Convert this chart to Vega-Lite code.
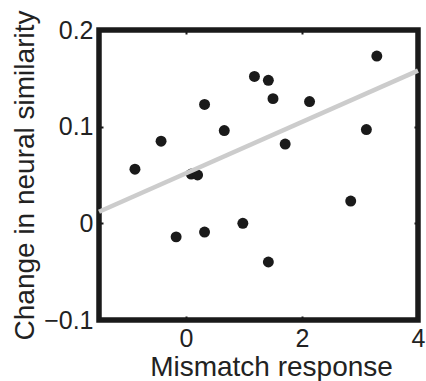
{
  "$schema": "https://vega.github.io/schema/vega-lite/v6.json",
  "width": 319,
  "height": 290,
  "autosize": "none",
  "padding": {"left": 99, "top": 30, "right": 8, "bottom": 61},
  "background": "white",
  "config": {
    "view": {"stroke": "#1a1a1a", "strokeWidth": 5.5},
    "font": "Liberation Sans",
    "axis": {"grid": false, "domain": false, "labelFont": "Liberation Sans", "titleFont": "Liberation Sans", "labelColor": "#222", "titleColor": "#222", "tickColor": "#1a1a1a", "tickWidth": 2, "titleFontWeight": "normal"}
  },
  "datasets": {
    "pts": [
      {"mismatch": 0.32, "change": 0.123},
      {"mismatch": 1.18, "change": 0.152},
      {"mismatch": 0.66, "change": 0.096},
      {"mismatch": -0.43, "change": 0.085},
      {"mismatch": -0.88, "change": 0.056},
      {"mismatch": 0.09, "change": 0.051},
      {"mismatch": 0.2, "change": 0.05},
      {"mismatch": 1.42, "change": 0.148},
      {"mismatch": 1.5, "change": 0.129},
      {"mismatch": 2.13, "change": 0.126},
      {"mismatch": 3.29, "change": 0.173},
      {"mismatch": 3.11, "change": 0.097},
      {"mismatch": 1.71, "change": 0.082},
      {"mismatch": -0.17, "change": -0.014},
      {"mismatch": 0.32, "change": -0.009},
      {"mismatch": 0.98, "change": 0.0},
      {"mismatch": 2.84, "change": 0.023},
      {"mismatch": 1.42, "change": -0.04}
    ],
    "fit": [
      {"mismatch": -1.5, "change": 0.012},
      {"mismatch": 4, "change": 0.158}
    ]
  },
  "layer": [
    {
      "data": {"name": "pts"},
      "mark": {"type": "point", "filled": true, "shape": "circle", "size": 120, "color": "#1a1a1a", "opacity": 1},
      "encoding": {
        "x": {"field": "mismatch", "type": "quantitative", "scale": {"domain": [-1.5, 4], "nice": false, "zero": false},
          "axis": {"orient": "bottom", "values": [0, 2, 4], "tickSize": -4, "labelPadding": 10, "labelFontSize": 25, "labelFlush": false,
            "title": "Mismatch response", "titleFontSize": 28, "titleX": 172, "titleY": 55, "titleBaseline": "alphabetic", "titleAlign": "center"}},
        "y": {"field": "change", "type": "quantitative", "scale": {"domain": [-0.1, 0.2], "nice": false, "zero": false},
          "axis": {"orient": "left", "values": [-0.1, 0, 0.1, 0.2], "format": "~g", "tickSize": -4, "labelPadding": 10, "labelFontSize": 25, "labelFlush": false,
            "title": "Change in neural similarity", "titleFontSize": 28, "titleX": -66, "titleY": 145, "titleAngle": -90, "titleBaseline": "alphabetic", "titleAlign": "center"}}
      }
    },
    {
      "data": {"name": "fit"},
      "mark": {"type": "line", "color": "#cccccc", "strokeWidth": 4.5},
      "encoding": {
        "x": {"field": "mismatch", "type": "quantitative", "axis": {"orient": "top", "values": [0, 2, 4], "tickSize": -4, "labels": false, "title": null}},
        "y": {"field": "change", "type": "quantitative", "axis": {"orient": "right", "values": [-0.1, 0, 0.1, 0.2], "tickSize": -4, "labels": false, "title": null}}
      }
    }
  ],
  "resolve": {"axis": {"x": "independent", "y": "independent"}}
}
